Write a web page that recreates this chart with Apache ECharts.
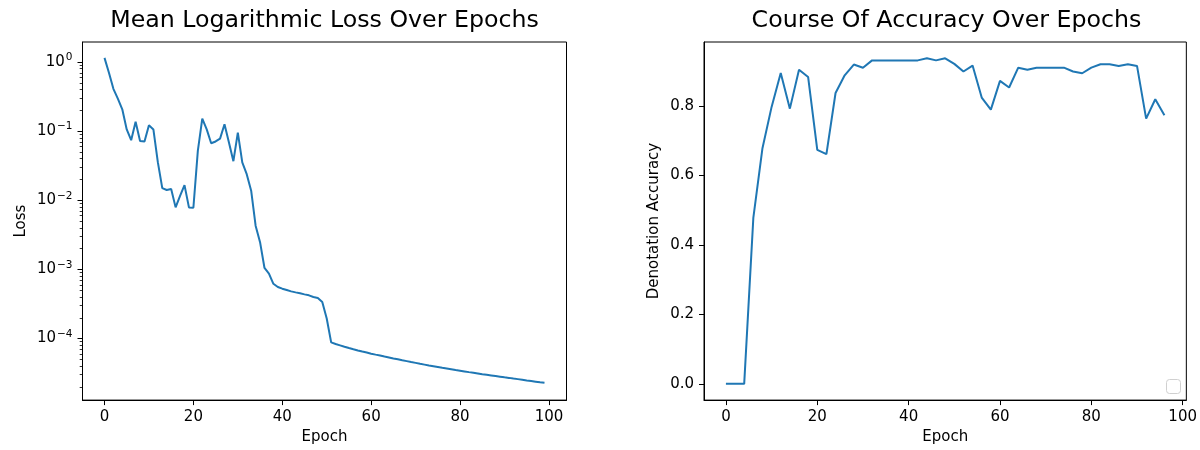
<!DOCTYPE html>
<html>
<head>
<meta charset="utf-8">
<script src="https://cdn.jsdelivr.net/npm/echarts@6/dist/echarts.min.js"></script>
<style>
html,body{margin:0;padding:0;background:#fff;}
#chart{width:1200px;height:450px;}
</style>
</head>
<body>
<div id="chart"></div>
<script>
// ---------- data ----------
const lossEpochs = [0,1,2,3,4,5,6,7,8,9,10,11,12,13,14,15,16,17,18,19,20,21,22,23,24,25,26,27,28,29,30,31,32,33,34,35,36,37,38,39,40,41,42,43,44,45,46,47,48,49,50,51,52,53,54,55,56,57,58,59,60,61,62,63,64,65,66,67,68,69,70,71,72,73,74,75,76,77,78,79,80,81,82,83,84,85,86,87,88,89,90,91,92,93,94,95,96,97,98,99];
const lossValues = [
  1.15, 0.70, 0.41, 0.295, 0.207, 0.106, 0.074, 0.137, 0.072, 0.071,
  0.122, 0.106, 0.0356, 0.0150, 0.0141, 0.0146, 0.0079, 0.0116, 0.0166, 0.0079,
  0.0078, 0.0519, 0.152, 0.106, 0.067, 0.071, 0.078, 0.126, 0.0685, 0.0368,
  0.095, 0.0353, 0.0239, 0.0138, 0.0043, 0.00248, 0.00105, 0.00087, 0.00062, 0.000557,
  0.000527, 0.000505, 0.000482, 0.000466, 0.000451, 0.000436, 0.000422, 0.000400, 0.000387, 0.000339,
  0.000195, 8.8e-5, 8.36e-5, 7.98e-5, 7.62e-5, 7.29e-5, 7.0e-5, 6.73e-5, 6.49e-5, 6.27e-5,
  6.05e-5, 5.86e-5, 5.68e-5, 5.50e-5, 5.33e-5, 5.16e-5, 5.01e-5, 4.86e-5, 4.72e-5, 4.58e-5,
  4.45e-5, 4.32e-5, 4.20e-5, 4.08e-5, 3.98e-5, 3.88e-5, 3.78e-5, 3.69e-5, 3.60e-5, 3.51e-5,
  3.43e-5, 3.35e-5, 3.27e-5, 3.20e-5, 3.13e-5, 3.05e-5, 2.99e-5, 2.93e-5, 2.87e-5, 2.81e-5,
  2.75e-5, 2.70e-5, 2.64e-5, 2.59e-5, 2.54e-5, 2.48e-5, 2.43e-5, 2.38e-5, 2.33e-5, 2.29e-5
];
const accEpochs = [0,2,4,6,8,10,12,14,16,18,20,22,24,26,28,30,32,34,36,38,40,42,44,46,48,50,52,54,56,58,60,62,64,66,68,70,72,74,76,78,80,82,84,86,88,90,92,94,96];
const accValues = [
  0.0, 0.0, 0.0, 0.478, 0.679, 0.798, 0.896, 0.793, 0.905, 0.884,
  0.674, 0.662, 0.838, 0.889, 0.920, 0.911, 0.932, 0.932, 0.932, 0.932,
  0.932, 0.932, 0.938, 0.932, 0.938, 0.922, 0.900, 0.917, 0.825, 0.790,
  0.873, 0.854, 0.911, 0.905, 0.911, 0.911, 0.911, 0.911, 0.900, 0.895,
  0.911, 0.921, 0.921, 0.916, 0.921, 0.916, 0.764, 0.820, 0.774
];
const xTickValues = [0, 20, 40, 60, 80, 100];
const lossMajorTicks = [1, 0.1, 0.01, 0.001, 0.0001];
const accTickValues = [0, 0.2, 0.4, 0.6, 0.8];

// ---------- styling ----------
const FONT = 'DejaVu Sans';
const LINE = '#1f77b4';
const lossMin = Math.pow(10, -4.89), lossMax = Math.pow(10, 0.29);
const lossMinorTicks = [];
for (let k = -5; k <= 0; k++) {
  for (let m = 2; m <= 9; m++) {
    const v = m * Math.pow(10, k);
    if (v > lossMin && v < lossMax) lossMinorTicks.push(v);
  }
}
function supFmt(v) {
  const e = Math.round(Math.log10(v));
  return '{b|10}{s|' + (e < 0 ? '\u2212' + (-e) : e) + '}';
}
const tickLabelBase = {color: '#000', fontFamily: FONT, fontSize: 15};
const axisLineStyle = {show: true, onZero: false, lineStyle: {color: '#000', width: 1}};

const chart = echarts.init(document.getElementById('chart'), null, {renderer: 'canvas'});
chart.setOption({
  animation: false,
  backgroundColor: '#fff',
  textStyle: {fontFamily: FONT},
  title: [
    {text: 'Mean Logarithmic Loss Over Epochs', left: 324.5, top: 9, textAlign: 'center', padding: 0,
     textStyle: {fontFamily: FONT, fontSize: 23.7, fontWeight: 'normal', color: '#000'}},
    {text: 'Course Of Accuracy Over Epochs', left: 946.5, top: 9, textAlign: 'center', padding: 0,
     textStyle: {fontFamily: FONT, fontSize: 23.7, fontWeight: 'normal', color: '#000'}}
  ],
  grid: [
    {left: 82.5, top: 42, width: 484, height: 360, show: true, borderColor: '#000', borderWidth: 1, backgroundColor: 'transparent', containLabel: false},
    {left: 704, top: 42, width: 485, height: 360, show: true, borderColor: '#000', borderWidth: 1, backgroundColor: 'transparent', containLabel: false}
  ],
  xAxis: [
    {type: 'value', gridIndex: 0, min: -4.95, max: 103.95,
     name: 'Epoch', nameLocation: 'middle', nameGap: 29,
     nameTextStyle: {fontFamily: FONT, fontSize: 15, color: '#000'},
     axisLine: axisLineStyle,
     axisTick: {show: true, length: 5, inside: false, customValues: xTickValues, lineStyle: {color: '#000'}},
     axisLabel: Object.assign({margin: 10, customValues: xTickValues}, tickLabelBase),
     splitLine: {show: false}},
    {type: 'value', gridIndex: 1, min: -4.8, max: 100.8,
     name: 'Epoch', nameLocation: 'middle', nameGap: 29,
     nameTextStyle: {fontFamily: FONT, fontSize: 15, color: '#000'},
     axisLine: axisLineStyle,
     axisTick: {show: true, length: 5, inside: false, customValues: xTickValues, lineStyle: {color: '#000'}},
     axisLabel: Object.assign({margin: 10, customValues: xTickValues}, tickLabelBase),
     splitLine: {show: false}}
  ],
  yAxis: [
    {type: 'log', logBase: 10, gridIndex: 0, min: lossMin, max: lossMax, position: 'left',
     name: 'Loss', nameLocation: 'middle', nameGap: 54, nameRotate: 90,
     nameTextStyle: {fontFamily: FONT, fontSize: 15, color: '#000'},
     axisLine: axisLineStyle,
     axisTick: {show: true, length: 5, customValues: lossMajorTicks, lineStyle: {color: '#000'}},
     axisLabel: {margin: 10, customValues: lossMajorTicks, formatter: supFmt, color: '#000', fontFamily: FONT,
       rich: {
         b: {fontFamily: FONT, fontSize: 15, color: '#000'},
         s: {fontFamily: FONT, fontSize: 10.5, color: '#000', padding: [0, 0, 9, 1]}
       }},
     splitLine: {show: false}},
    {type: 'log', logBase: 10, gridIndex: 0, min: lossMin, max: lossMax, position: 'left',
     axisLine: {show: false, onZero: false},
     axisTick: {show: true, length: 2.8, customValues: lossMinorTicks, lineStyle: {color: '#000', width: 0.8}},
     axisLabel: {show: false},
     splitLine: {show: false}},
    {type: 'value', gridIndex: 1, min: -0.0469, max: 0.985, position: 'left',
     name: 'Denotation Accuracy', nameLocation: 'middle', nameGap: 42, nameRotate: 90,
     nameTextStyle: {fontFamily: FONT, fontSize: 15, color: '#000'},
     axisLine: axisLineStyle,
     axisTick: {show: true, length: 5, customValues: accTickValues, lineStyle: {color: '#000'}},
     axisLabel: Object.assign({margin: 10, customValues: accTickValues, formatter: v => v.toFixed(1)}, tickLabelBase),
     splitLine: {show: false}}
  ],
  graphic: [
    {type: 'rect', left: 1166, top: 379, shape: {width: 14, height: 14, r: 3},
     style: {fill: '#fff', stroke: '#d0d0d0', lineWidth: 1}, silent: true, z: 100}
  ],
  series: [
    {type: 'line', xAxisIndex: 0, yAxisIndex: 0, showSymbol: false, symbol: 'none',
     lineStyle: {color: LINE, width: 2}, itemStyle: {color: LINE},
     data: lossEpochs.map((e, i) => [e, lossValues[i]])},
    {type: 'line', xAxisIndex: 1, yAxisIndex: 2, showSymbol: false, symbol: 'none',
     lineStyle: {color: LINE, width: 2}, itemStyle: {color: LINE},
     data: accEpochs.map((e, i) => [e, accValues[i]])}
  ]
});
</script>
</body>
</html>
